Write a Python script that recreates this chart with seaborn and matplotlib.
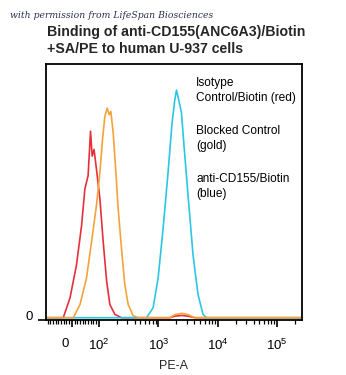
import numpy as np
import pandas as pd
import matplotlib
matplotlib.use("Agg")
import matplotlib.pyplot as plt
import matplotlib.transforms as mtransforms
from matplotlib.ticker import FixedLocator, FixedFormatter, NullFormatter
import seaborn as sns

# PE-A intensity (x) and % of max events (y) for each sample
iso_x = [-97, -60, -32, -7, 17, 36, 48, 60, 69, 75, 82, 91, 104, 118, 135, 153, 186, 240,
         400, 1000, 1560, 1900, 2480, 3200, 4100, 10000, 262000]
iso_y = [0, 0, 0, 7.8, 20.8, 36.5, 50.8, 56.0, 73.6, 63.8, 66.4, 58.6, 46.9, 30.1, 14.5, 5.2, 1.3, 0,
         0, 0, 0, 0.6, 0.9, 0.6, 0, 0, 0]

blk_x = [-97, -40, 5, 30, 54, 73, 91, 104, 115, 126, 138, 149, 159, 174, 193, 211, 240, 273, 311,
         377, 458, 700, 1000, 1560, 1900, 2480, 3200, 4100, 10000, 262000]
blk_y = [0, 0, 0, 5.2, 15.6, 30.1, 44.3, 57.4, 70.3, 79.4, 82.7, 80.1, 81.4, 73.0, 57.4, 43.0,
         27.3, 13.0, 5.2, 0.8, 0, 0, 0, 0, 1.2, 1.7, 1.2, 0, 0, 0]

cd155_x = [-97, 100, 400, 633, 817, 992, 1204, 1460, 1705, 1893, 2021, 2210, 2453, 2713, 3167,
           3842, 4665, 5657, 6455, 20000, 262000]
cd155_y = [0, 0, 0, 0, 3.9, 15.6, 35.2, 57.4, 77.0, 85.9, 89.8, 85.9, 80.9, 67.7, 48.2, 24.7,
           9.1, 1.3, 0, 0, 0]

samples = ["Isotype Control/Biotin", "Blocked Control", "anti-CD155/Biotin"]
sample_colors = {"Isotype Control/Biotin": "#e5303c",
                 "Blocked Control": "#f4a33a",
                 "anti-CD155/Biotin": "#2cc6e2"}

legend_lines = ["Isotype\nControl/Biotin (red)", "Blocked Control\n(gold)",
                "anti-CD155/Biotin\n(blue)"]

xtick_vals = [0, 100, 1000, 10000, 100000]
xtick_text = ["0", "$10^2$", "$10^3$", "$10^4$", "$10^5$"]

df = pd.concat([
    pd.DataFrame({"PE-A": iso_x, "count": iso_y, "sample": samples[0]}),
    pd.DataFrame({"PE-A": blk_x, "count": blk_y, "sample": samples[1]}),
    pd.DataFrame({"PE-A": cd155_x, "count": cd155_y, "sample": samples[2]}),
])

sns.set_style("white")
plt.rcParams["font.family"] = ["Liberation Sans", "DejaVu Sans"]
plt.rcParams["mathtext.fontset"] = "custom"
plt.rcParams["mathtext.rm"] = "Liberation Sans"
plt.rcParams["mathtext.it"] = "Liberation Sans:italic"

W, H = 346, 375
fig = plt.figure(figsize=(W / 100, H / 100), dpi=100)
fig.patch.set_facecolor("white")

# axes box in pixel coordinates
x0, x1, y0, y1 = 45.7, 302.0, 64.3, 320.0
ax = fig.add_axes([x0 / W, (H - y1) / H, (x1 - x0) / W, (y1 - y0) / H])

# gold trace drawn last so its baseline sits on top
draw_order = [samples[0], samples[2], samples[1]]
sns.lineplot(data=df, x="PE-A", y="count", hue="sample", palette=sample_colors,
             hue_order=draw_order, estimator=None, sort=False, linewidth=1.2,
             legend=False, ax=ax)

ax.set_xscale("symlog", linthresh=100, linscale=0.409)
ax.set_xlim(-97, 262000)
ax.set_ylim(-0.9, 100)

# biexponential-style ticks
ax.xaxis.set_major_locator(FixedLocator(xtick_vals))
ax.xaxis.set_major_formatter(FixedFormatter(xtick_text))
minor = list(range(-90, 0, 10)) + list(range(10, 100, 10))
for dec in [100, 1000, 10000, 100000]:
    minor += [m * dec for m in range(2, 10) if m * dec < 262000]
ax.xaxis.set_minor_locator(FixedLocator(minor))
ax.xaxis.set_minor_formatter(NullFormatter())
ax.tick_params(axis="x", which="major", direction="out", length=5, width=1.2,
               pad=8, labelsize=9.5, colors="black", bottom=True)
ax.tick_params(axis="x", which="minor", direction="out", length=3, width=0.9,
               bottom=True, colors="black")

ax.set_yticks([-0.9])
ax.set_yticklabels(["0"])
ax.tick_params(axis="y", which="major", direction="out", length=6, width=1.2,
               pad=3, labelsize=9.5, left=True, colors="black")

for lab in ax.get_xticklabels():
    if lab.get_text() == "0":
        lab.set_transform(lab.get_transform() +
                          mtransforms.ScaledTranslation(-7 / 100, 0, fig.dpi_scale_trans))
for lab in ax.get_yticklabels():
    lab.set_transform(lab.get_transform() +
                      mtransforms.ScaledTranslation(0, 4 / 100, fig.dpi_scale_trans))

ax.set_xlabel("PE-A", fontsize=9, labelpad=5)
ax.set_ylabel("")

for sp in ax.spines.values():
    sp.set_visible(True)
    sp.set_color("black")
    sp.set_linewidth(1.3)

# annotations
fig.text(10 / W, 1 - 15 / H, "with permission from LifeSpan Biosciences",
         family="DejaVu Serif", style="italic", fontsize=6.7, color="#2d3050",
         ha="left", va="center")
fig.text(47 / W, 1 - 32 / H, "Binding of anti-CD155(ANC6A3)/Biotin",
         fontsize=10.2, weight="bold", ha="left", va="center")
fig.text(47 / W, 1 - 49 / H, "+SA/PE to human U-937 cells",
         fontsize=10.2, weight="bold", ha="left", va="center")

for i, txt in enumerate(legend_lines):
    fig.text(196 / W, 1 - (77 + 48 * i) / H, txt, fontsize=8.6, ha="left",
             va="top", linespacing=1.3, color="black")

fig.savefig("out.png", dpi=100, facecolor="white")
